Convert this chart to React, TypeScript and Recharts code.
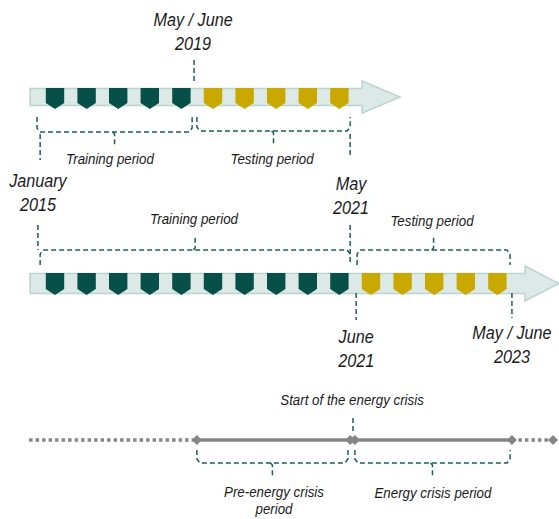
import React from 'react'
import { ComposedChart, ReferenceArea, ReferenceDot, ReferenceLine, Scatter, XAxis, YAxis } from 'recharts'

// each entry is one time block on the timeline, in order
const topPhases = ['train', 'train', 'train', 'train', 'train', 'test', 'test', 'test', 'test', 'test']
const bottomPhases = [
  'train', 'train', 'train', 'train', 'train', 'train', 'train', 'train', 'train', 'train',
  'test', 'test', 'test', 'test', 'test',
]

// date labels: text lines, slot position, row position
const dateLabels = [
  { lines: ['May / June', '2019'], slot: 4.37, row: 20 },
  { lines: ['January', '2015'], slot: -0.54, row: 181 },
  { lines: ['May', '2021'], slot: 9.37, row: 184 },
  { lines: ['June', '2021'], slot: 9.53, row: 337 },
  { lines: ['May / June', '2023'], slot: 14.46, row: 333 },
]

const periodLabels = [
  { lines: ['Training period'], slot: 1.74, row: 158 },
  { lines: ['Testing period'], slot: 6.87, row: 158 },
  { lines: ['Training period'], slot: 4.4, row: 218 },
  { lines: ['Testing period'], slot: 11.93, row: 220 },
  { lines: ['Start of the energy crisis'], slot: 9.4, row: 399 },
  { lines: ['Pre-energy crisis', 'period'], slot: 6.93, row: 491 },
  { lines: ['Energy crisis period'], slot: 11.96, row: 492 },
]

// brackets [from, to] in slots
const brackets = [
  { from: -0.57, to: 4.34, ends: 117, bar: 132, tick: 146 },
  { from: 4.49, to: 9.34, ends: 117, bar: 131, tick: 145 },
  { from: -0.47, to: 9.34, ends: 265, bar: 250, tick: 237 },
  { from: 9.56, to: 14.4, ends: 265, bar: 250, tick: 237 },
  { from: 4.49, to: 9.27, ends: 450, bar: 463, tick: 477 },
  { from: 9.49, to: 14.4, ends: 450, bar: 463, tick: 477 },
]

// vertical date markers [slot, rowFrom, rowTo]
const markers = [
  [4.4, 60, 82],
  [-0.47, 134, 160],
  [-0.54, 225, 250],
  [9.34, 134, 155],
  [9.34, 225, 256],
  [9.53, 293, 320],
  [14.46, 293, 318],
  [9.43, 418, 432],
]

const crisisPoints = [4.49, 9.34, 9.49, 14.46]
const crisisStart = -0.82
const crisisEnd = 15.76

const DARK = '#07504a'
const GOLD = '#c9a800'
const BODY = '#dde9e6'
const EDGE = '#b9d5ce'
const DASH = '#1d5f58'
const GREY = '#858585'
const FONT = '"Liberation Sans", Arial, sans-serif'

const topData = topPhases.map((phase, i) => ({ slot: i, row: 88, phase }))
const bottomData = bottomPhases.map((phase, i) => ({ slot: i, row: 273, phase }))

const makeBlock = (rectH: number, tipH: number) => (p: any) => {
  const { cx, cy, payload } = p
  const w = 9.2
  const pts = `${cx - w},${cy} ${cx + w},${cy} ${cx + w},${cy + rectH} ${cx},${cy + tipH} ${cx - w},${cy + rectH}`
  return <polygon points={pts} fill={payload.phase === 'train' ? DARK : GOLD} />
}

const makeArrow = (bodyH: number, headL: number) => (p: any) => {
  const { x, y, width, height } = p
  const mid = y + height / 2
  const bt = mid - bodyH / 2
  const bb = mid + bodyH / 2
  const hx = x + width - headL
  const pts = `${x},${bt} ${hx},${bt} ${hx},${y} ${x + width},${mid} ${hx},${y + height} ${hx},${bb} ${x},${bb}`
  return <polygon points={pts} fill={BODY} stroke={EDGE} strokeWidth={1.5} />
}

const makeBracket = (b: { ends: number; bar: number; tick: number }) => (p: any) => {
  const { x, width } = p
  const top = p.y
  const bot = p.y + p.height
  const down = b.tick > b.ends
  const endY = down ? top : bot
  const tickY = down ? bot : top
  const barY = down ? top + (b.bar - b.ends) : bot - (b.ends - b.bar)
  const d = down ? -2 : 2
  const x2 = x + width
  const cx = x + width / 2
  const path =
    `M${x},${endY} L${x},${barY + d * 2} L${x + 3},${barY} L${x2 - 3},${barY} L${x2},${barY + d * 2} L${x2},${endY}` +
    ` M${cx - 2},${barY} L${cx},${barY - d} L${cx},${tickY}`
  return <path d={path} fill="none" stroke={DASH} strokeWidth={1.5} strokeDasharray="5 3" />
}

// the source uses a condensed italic face, so squeeze the text horizontally
const makeText = (lines: string[], size: number, gap: number, sx: number) => (p: any) => {
  const { cx, cy } = p
  return (
    <text
      textAnchor="middle"
      fontFamily={FONT}
      fontStyle="italic"
      fontSize={size}
      fill="#1b1b1b"
      transform={`translate(${cx},0) scale(${sx},1) translate(${-cx},0)`}
    >
      {lines.map((l, i) => (
        <tspan key={i} x={cx} y={cy + i * gap + size * 0.36}>
          {l}
        </tspan>
      ))}
    </text>
  )
}

const diamond = (p: any) => {
  const { cx, cy } = p
  const r = 5
  return <polygon points={`${cx - r},${cy} ${cx},${cy - r} ${cx + r},${cy} ${cx},${cy + r}`} fill={GREY} />
}

const TimelineDiagram = () => {
  return (
    <div style={{ position: 'absolute', left: 0, top: 0, background: '#fff' }}>
      <ComposedChart width={559} height={519} margin={{ top: 0, right: 0, bottom: 0, left: 0 }}>
        <XAxis type="number" dataKey="slot" domain={[-1.7405, 15.9494]} hide allowDataOverflow />
        <YAxis type="number" dataKey="row" domain={[0, 519]} reversed hide allowDataOverflow />

        <ReferenceArea x1={-0.79} x2={10.92} y1={81} y2={113} shape={makeArrow(17, 38)} ifOverflow="visible" />
        <ReferenceArea x1={-0.79} x2={15.95} y1={266} y2={301} shape={makeArrow(20, 34)} ifOverflow="visible" />

        <Scatter data={topData} shape={makeBlock(15, 21)} isAnimationActive={false} />
        <Scatter data={bottomData} shape={makeBlock(16, 22)} isAnimationActive={false} />

        {brackets.map((b, i) => (
          <ReferenceArea
            key={'b' + i}
            x1={b.from}
            x2={b.to}
            y1={Math.min(b.ends, b.tick)}
            y2={Math.max(b.ends, b.tick)}
            shape={makeBracket(b)}
            ifOverflow="visible"
          />
        ))}

        {markers.map(([s, a, b], i) => (
          <ReferenceLine
            key={'m' + i}
            segment={[{ x: s, y: a }, { x: s, y: b }]}
            stroke={DASH}
            strokeWidth={1.5}
            strokeDasharray="5 3"
            ifOverflow="visible"
          />
        ))}

        <ReferenceLine segment={[{ x: crisisStart, y: 440 }, { x: crisisPoints[0], y: 440 }]} stroke={GREY} strokeWidth={3.5} strokeDasharray="3.5 3" ifOverflow="visible" />
        <ReferenceLine segment={[{ x: crisisPoints[0], y: 440 }, { x: crisisPoints[3], y: 440 }]} stroke={GREY} strokeWidth={3.5} ifOverflow="visible" />
        <ReferenceLine segment={[{ x: crisisPoints[3], y: 440 }, { x: crisisEnd, y: 440 }]} stroke={GREY} strokeWidth={3.5} strokeDasharray="3.5 3" ifOverflow="visible" />
        {[...crisisPoints, crisisEnd].map((s, i) => (
          <ReferenceDot key={'d' + i} x={s} y={440} shape={diamond} ifOverflow="visible" />
        ))}

        {dateLabels.map((l, i) => (
          <ReferenceDot key={'t' + i} x={l.slot} y={l.row} shape={makeText(l.lines, 18, 24, 0.9)} ifOverflow="visible" />
        ))}
        {periodLabels.map((l, i) => (
          <ReferenceDot key={'p' + i} x={l.slot} y={l.row} shape={makeText(l.lines, 15.5, 17.5, 0.86)} ifOverflow="visible" />
        ))}
      </ComposedChart>
    </div>
  )
}

export default TimelineDiagram
